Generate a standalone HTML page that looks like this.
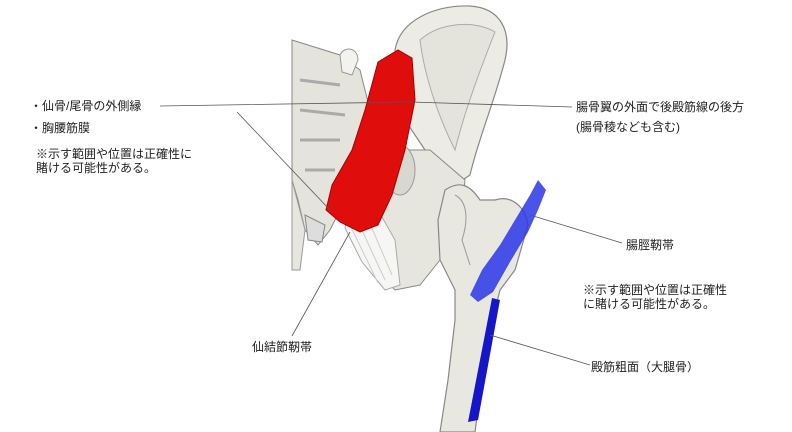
<!DOCTYPE html>
<html><head><meta charset="utf-8"><style>
html,body{margin:0;padding:0;background:#fff;width:792px;height:432px;overflow:hidden}
svg{display:block}
text{font-family:"Liberation Sans","Noto Sans CJK JP",sans-serif;font-size:12px;fill:#222}
</style></head><body>
<svg width="792" height="432" viewBox="0 0 792 432">
<!-- sacrum / spine -->
<path d="M292,40 L340,55 L360,70 L370,110 L365,160 L345,200 L330,230 L318,245 L305,230 L298,200 L292,180 Z" fill="#e4e4dc" stroke="#888" stroke-width="1"/>
<path d="M292,180 L305,230 L300,270 L292,270 Z" fill="#e6e6de" stroke="#999"/>
<path d="M300,80 L340,85 M300,110 L345,115 M300,140 L340,140 M305,170 L335,170" stroke="#aaa" stroke-width="3" fill="none"/>
<path d="M340,55 C345,45 358,48 358,60 L352,75 L342,72 Z" fill="#f2f2ee" stroke="#999"/>
<path d="M305,215 L325,225 L322,242 L308,240 Z" fill="#ddd" stroke="#888"/>
<!-- ilium wing -->
<path d="M395,50 C400,20 435,5 470,6 C500,8 512,30 505,60 C495,100 478,140 470,175 L455,185 L425,150 L405,120 Z" fill="#ececE4" stroke="#888" stroke-width="1.2"/>
<path d="M420,40 C440,22 475,20 495,32 C480,70 465,110 455,150 C440,120 425,80 420,40 Z" fill="#e4e4dc" stroke="#aaa"/>
<!-- lower pelvis -->
<path d="M380,150 L430,150 L465,180 L460,230 L440,260 L420,285 L395,290 L375,270 L370,230 Z" fill="#e6e6de" stroke="#888"/>
<ellipse cx="400" cy="170" rx="15" ry="25" fill="#d8d8d0" stroke="#999"/>
<!-- femur -->
<path d="M445,190 C460,180 470,185 480,200 L495,200 C510,195 525,205 528,225 L515,270 L500,290 L490,330 L482,380 L475,432 L440,432 L448,380 L455,320 L455,290 L440,260 L438,220 Z" fill="#e8e8e0" stroke="#888" stroke-width="1.2"/>
<path d="M455,195 C465,200 470,215 462,240 L470,265" stroke="#999" fill="none"/>
<!-- ligament -->
<path d="M350,205 L378,210 L395,240 L400,285 L385,290 L362,262 L345,228 Z" fill="#f6f6f4" stroke="#aaa"/>
<path d="M355,215 L385,280 M365,212 L392,275 M350,225 L378,283" stroke="#ccc" fill="none"/>
<!-- red muscle -->
<path d="M378,62 L398,50 L412,58 L415,100 L405,150 L392,195 L378,225 L360,232 L340,222 L326,210 L332,185 L352,150 L365,110 Z" fill="#e00d0d" stroke="#a00" stroke-width="1"/>
<!-- blue -->
<path d="M538,180 L546,190 L538,210 L528,232 L510,262 L493,292 L478,302 L470,295 L482,270 L500,245 L515,220 L530,195 Z" fill="#2a36e8" opacity="0.85"/>
<path d="M492,298 L500,300 L478,420 L468,422 Z" fill="#1616c8"/>
<!-- leader lines -->
<g stroke="#555" stroke-width="0.8" fill="none">
<path d="M160,106 L410,102 L572,107"/>
<path d="M237,112 L330,210"/>
<path d="M530,215 L622,243"/>
<path d="M490,335 L590,365"/>
<path d="M350,232 L292,336"/>
</g>
<text x="30" y="110">・仙骨/尾骨の外側縁</text>
<text x="30" y="132">・胸腰筋膜</text>
<text x="36" y="158">※示す範囲や位置は正確性に</text>
<text x="36" y="172">賭ける可能性がある。</text>
<text x="576" y="111">腸骨翼の外面で後殿筋線の後方</text>
<text x="576" y="131">(腸骨稜なども含む)</text>
<text x="626" y="249">腸脛靭帯</text>
<text x="583" y="294">※示す範囲や位置は正確性</text>
<text x="583" y="308">に賭ける可能性がある。</text>
<text x="591" y="371">殿筋粗面（大腿骨）</text>
<text x="252" y="351">仙結節靭帯</text>
</svg>
</body></html>
